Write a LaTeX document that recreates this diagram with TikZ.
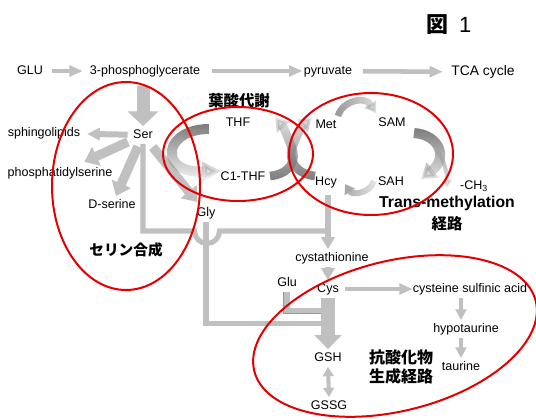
\documentclass[tikz,border=0pt]{standalone}
\usepackage{fontspec}
\setmainfont{Liberation Sans}
\newfontfamily\jpfont{Noto Sans CJK JP}
\usetikzlibrary{arrows.meta,fadings,calc}
\definecolor{ag}{RGB}{192,192,192}
\definecolor{cg}{RGB}{125,125,125}
\definecolor{rl}{RGB}{228,0,0}
\definecolor{tl}{RGB}{64,196,150}
\tikzfading[name=fadedown, top color=transparent!0, bottom color=transparent!85]
\tikzfading[name=fadeup, top color=transparent!85, bottom color=transparent!0]
\tikzfading[name=faderight, left color=transparent!0, right color=transparent!75]
\begin{document}
\begin{tikzpicture}[x=0.75pt,y=-0.75pt,
  lbl/.style={font=\fontsize{9.4}{11}\selectfont, inner sep=2pt, text height=7pt, text depth=2pt},
  jpl/.style={font=\jpfont\bfseries\fontsize{11.5}{14}\selectfont, inner sep=0pt, align=center},
  harrow/.style={draw=ag, line width=3.4pt, -{Triangle[length=10pt,width=8pt]}},
  sarrow/.style={draw=ag, line width=3.8pt, -{Triangle[length=9pt,width=10pt]}},
  tarrow/.style={draw=ag, line width=3pt, -{Triangle[length=8pt,width=8pt]}},
  farrow/.style={draw=ag, line width=7pt, -{Triangle[length=10pt,width=15pt]}},
  gline/.style={draw=ag, line width=3.8pt},
  ring/.style={draw=rl, line width=1.5pt},
]
\fill[white] (0,0) rectangle (536,419);
\useasboundingbox (0,0) rectangle (536,419);

% title
\node[inner sep=0pt] (fig) at (449,25) {{\jpfont\bfseries\fontsize{16.5}{18}\selectfont 図}\hspace{8pt}{\fontsize{16.5}{18}\selectfont 1}};

% labels
\node[lbl] (glu) at (30,71) {GLU};
\node[lbl] (pg) at (145,71) {3-phosphoglycerate};
\node[lbl] (pyr) at (328,71) {pyruvate};
\node[lbl, font=\fontsize{10.4}{12}\selectfont] (tca) at (483,72) {TCA cycle};
\node[lbl] (ser) at (143,135) {Ser};
\node[lbl] (sph) at (44,133) {sphingolipids};
\node[lbl] (ps) at (60,173) {phosphatidylserine};
\node[lbl] (dser) at (112,205) {D-serine};
\node[lbl] (gly) at (206,213) {Gly};
\node[lbl] (thf) at (238,123) {THF};
\node[lbl] (c1) at (243,177) {C1-THF};
\node[lbl] (met) at (326,125) {Met};
\node[lbl] (sam) at (392,123) {SAM};
\node[lbl] (hcy) at (326,182) {Hcy};
\node[lbl] (sah) at (391,182) {SAH};
\node[lbl] (ch3) at (474,186) {-CH\textsubscript{3}};
\node[lbl] (cysta) at (332,258) {cystathionine};
\node[lbl] (glu2) at (287,283) {Glu};
\node[lbl] (cys) at (328,289) {Cys};
\node[lbl] (csa) at (470,289) {cysteine sulfinic acid};
\node[lbl] (hypo) at (466,329) {hypotaurine};
\node[lbl] (tau) at (461,367) {taurine};
\node[lbl] (gsh) at (328,358) {GSH};
\node[lbl] (gssg) at (329,406) {GSSG};

\node[jpl] (fol) at (239,101) {葉酸代謝};
\node[jpl, font=\jpfont\bfseries\fontsize{11}{14}\selectfont] (serin) at (126,250) {セリン合成};
\node[font=\bfseries\fontsize{11.8}{14}\selectfont, inner sep=0pt] (tm) at (447,203) {Trans-methylation};
\node[jpl] (tmj) at (447,224) {経路};
\node[jpl, font=\jpfont\bfseries\fontsize{12}{14.3}\selectfont] (anti) at (401,367) {抗酸化物\\生成経路};

% top row
\draw[harrow, shorten <=4.8pt, shorten >=3.2pt] (glu) -- (pg);
\draw[harrow, shorten <=7pt, shorten >=-1pt] (pg) -- (pyr);
\draw[harrow, shorten <=6pt, shorten >=4.2pt] (pyr) -- (tca);

% 3PG -> Ser
\draw[draw=ag, line width=9.75pt, -{Triangle[length=11pt,width=22.5pt]}, shorten <=4.7pt] (pg.south -| ser.north) -- (ser.north);

% Ser branches
\draw[draw=ag, line width=4.5pt, -{Triangle[length=9.5pt,width=9pt]}, shorten <=2pt, shorten >=3pt] (ser) -- (sph);
\draw[farrow, shorten <=2pt, shorten >=4pt] (ser) -- (ps);
\draw[farrow, shorten <=2pt] (ser) -- (dser);
\draw[farrow, shorten <=3pt, shorten >=2pt] (ser) -- (gly);

% Ser line with hop over Gly line
\draw[gline] (ser.south) |- (194.5,231) arc[start angle=180, end angle=0, radius=12.5] -- (cys.north |- 0,231);

% Hcy -> cystathionine -> Cys
\draw[sarrow, shorten <=3pt] (hcy.south -| cys.north) -- (cysta.north -| cys.north);
\draw[sarrow] (cysta.south -| cys.north) -- (cys.north);

% Gly line and Glu line into Cys -> GSH
\draw[gline] (gly.south) |- ($(cys.south)!0.5!(gsh.north)$);
\draw[gline, line width=4.5pt] (glu2.south) |- ($(cys.south)!0.25!(gsh.north)$);
\draw[draw=tl, line width=0.8pt] ($(glu2.south)+(-3.2,0)$) |- ($(cys.south)!0.25!(gsh.north)+(-7.5,3.2)$);
\draw[draw=ag, line width=11pt, -{Triangle[length=10.5pt,width=20pt]}] (cys.south) -- (gsh.north);

% Cys -> cysteine sulfinic acid -> hypotaurine -> taurine
\draw[harrow, shorten <=2.5pt, shorten >=-2pt] (cys) -- (csa);
\draw[tarrow] (csa.south -| tau.north) -- (hypo.north -| tau.north);
\draw[tarrow] (hypo.south -| tau.north) -- (tau.north);

% GSH <-> GSSG
\draw[draw=ag, line width=3pt, {Triangle[length=7pt,width=8pt]}-{Triangle[length=7pt,width=8pt]}] (gsh.south) -- (gssg.north);

% folate cycle
\draw[draw=cg, line width=7.5pt, -{Triangle[length=14pt,width=14pt]}, path fading=fadedown]
  (209,129) .. controls (180,129) and (166,147) .. (174,161) .. controls (180,170) and (192,172) .. (221,171);
\draw[draw=cg, line width=6.5pt, -{Triangle[length=10pt,width=12pt]}, path fading=fadeup]
  (270,176) .. controls (290,174) and (297,160) .. (292,148) .. controls (288,138) and (284,128) .. (275,117);
\draw[draw=cg, line width=6.5pt, -{Triangle[length=10pt,width=12pt]}, path fading=fadeup]
  (315,176) .. controls (296,174) and (288,160) .. (292,148) .. controls (296,138) and (300,128) .. (312,117);

% methionine cycle
\draw[draw=cg!80, line width=5pt, -{Triangle[length=8pt,width=10pt]}, path fading=faderight]
  (338,116) .. controls (343,100) and (365,96) .. (376,113);
\draw[draw=cg, line width=7.5pt, -{Triangle[length=11pt,width=14pt]}, path fading=fadedown]
  (414,133) .. controls (440,135) and (448,158) .. (421,179);
\draw[draw=cg!70, line width=3pt, -{Triangle[length=6pt,width=7pt]}, path fading=fadedown]
  (437,150) .. controls (444,160) and (447,172) .. (447,188);
\draw[draw=cg!70, line width=4.5pt, -{Triangle[length=7pt,width=9pt]}, path fading=faderight]
  (374,181) .. controls (370,194) and (352,195) .. (345,184);

% red rings
\draw[ring] (126,186) ellipse [x radius=74, y radius=104];
\draw[ring] (238,154) ellipse [x radius=75, y radius=47];
\draw[ring] (371,154) ellipse [x radius=82, y radius=61];
\draw[ring, rotate around={14:(395,336)}] (395,336) ellipse [x radius=145, y radius=75];
\end{tikzpicture}
\end{document}
